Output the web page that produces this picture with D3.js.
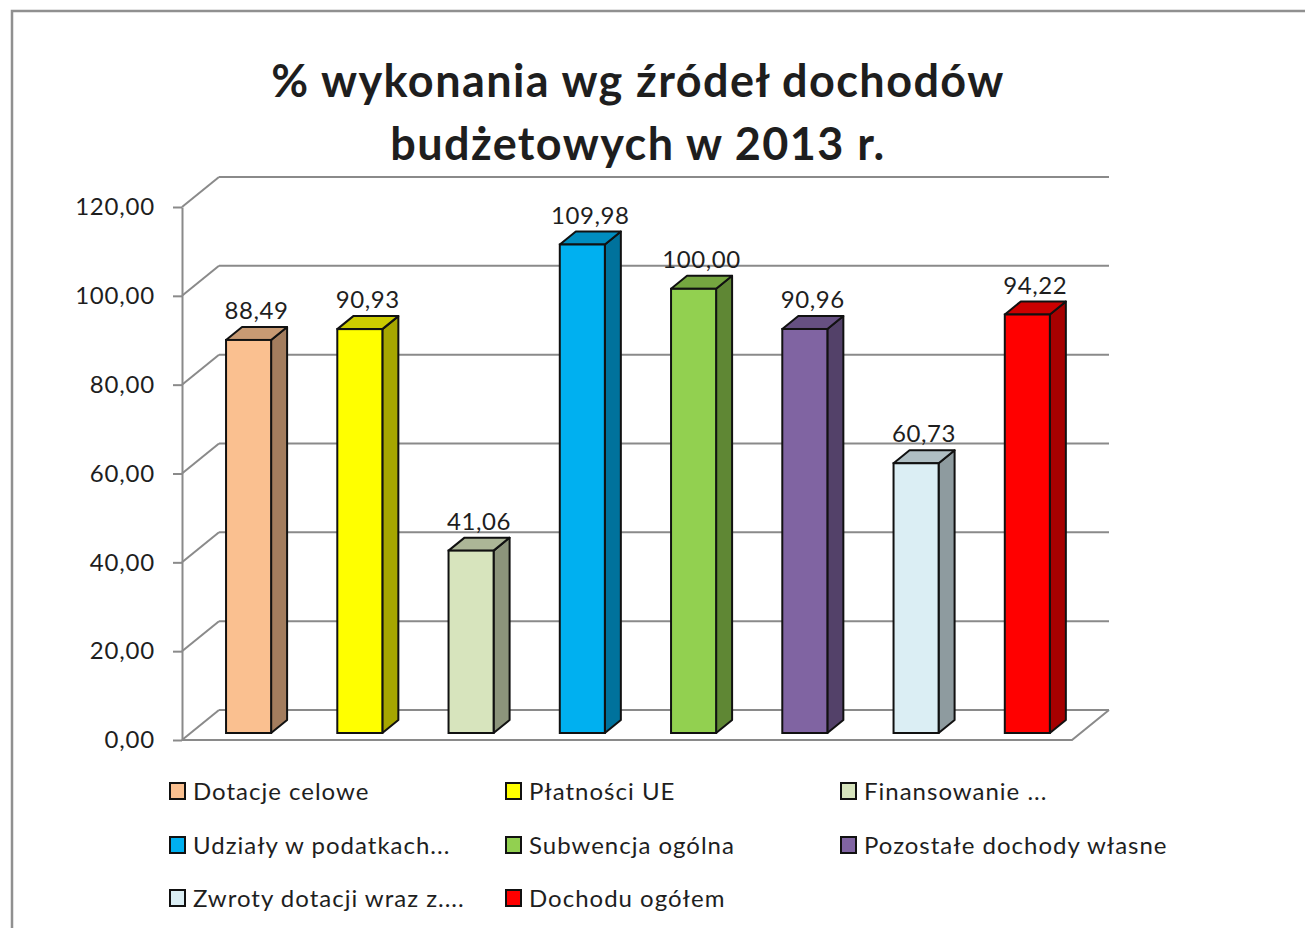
<!DOCTYPE html>
<html lang="pl">
<head>
    <meta charset="UTF-8">
    <title>% wykonania wg źródeł dochodów budżetowych w 2013 r.</title>
    <script src="https://d3js.org/d3.v7.min.js"></script>
    <style>
        body { margin: 0; background: #fff; }
        svg text { font-family: Lato, "Open Sans", sans-serif; fill: #1e1e1e; }
    </style>
</head>
<body>
<svg id="chart" width="1305" height="928"></svg>

<script>
    // data
    const categories = [
        "Dotacje celowe", "Płatności UE", "Finansowanie ...",
        "Udziały w podatkach...", "Subwencja ogólna", "Pozostałe dochody własne",
        "Zwroty dotacji wraz z....", "Dochodu ogółem"
    ];
    const values = [88.49, 90.93, 41.06, 109.98, 100.00, 90.96, 60.73, 94.22];
    const colors = ["#FAC090", "#FFFF00", "#D7E4BD", "#00B0F0", "#92D050", "#8064A2", "#DBEEF4", "#FF0000"];
    const yTicks = [0, 20, 40, 60, 80, 100, 120];
    const titleLines = ["% wykonania wg źródeł dochodów", "budżetowych w 2013 r."];

    const pl = d3.formatLocale({ decimal: ",", thousands: " ", grouping: [3], currency: ["", " zł"] });
    const fmt = pl.format(".2f");

    const svg = d3.select("#chart");
    const grey = "#8a8a8a";

    // outer frame (left and top edges visible)
    svg.append("rect")
        .attr("x", 12).attr("y", 11)
        .attr("width", 1400).attr("height", 1000)
        .attr("fill", "none").attr("stroke", "#909090").attr("stroke-width", 2.5);

    // title
    svg.append("text")
        .attr("x", 638).attr("y", 97)
        .attr("text-anchor", "middle")
        .attr("font-size", 45).attr("font-weight", "bold")
        .attr("letter-spacing", 1.4)
        .selectAll("tspan").data(titleLines).join("tspan")
        .attr("x", 638).attr("dy", (d, i) => i === 0 ? 0 : 63)
        .text(d => d);

    // plot geometry: front plane + depth offset
    const plotLeft = 182, plotRight = 1072, plotTop = 207, plotBottom = 740;
    const depth = { dx: 37, dy: -30 };

    const yScale = d3.scaleLinear().domain([0, 120]).range([plotBottom, plotTop]);
    const xScale = d3.scaleBand().domain(categories).range([plotLeft, plotRight]);
    const bw = xScale.bandwidth();

    const g = svg.append("g");

    // back wall gridlines and side wall diagonals
    yTicks.forEach(t => {
        const y = yScale(t);
        g.append("line")
            .attr("x1", plotLeft + depth.dx).attr("x2", plotRight + depth.dx)
            .attr("y1", y + depth.dy).attr("y2", y + depth.dy)
            .attr("stroke", grey).attr("stroke-width", 2);
        g.append("line")
            .attr("x1", plotLeft).attr("y1", y)
            .attr("x2", plotLeft + depth.dx).attr("y2", y + depth.dy)
            .attr("stroke", grey).attr("stroke-width", 2);
    });

    // floor front edge and right diagonal
    g.append("path")
        .attr("d", `M${plotLeft},${plotBottom}H${plotRight}L${plotRight + depth.dx},${plotBottom + depth.dy}`)
        .attr("fill", "none").attr("stroke", grey).attr("stroke-width", 2);

    // y axis
    const yAxis = svg.append("g")
        .attr("transform", `translate(${plotLeft},0)`)
        .call(d3.axisLeft(yScale).tickValues(yTicks).tickFormat(fmt).tickSize(9).tickSizeOuter(0).tickPadding(18));
    yAxis.selectAll("path, line").attr("stroke", grey).attr("stroke-width", 2);
    yAxis.selectAll("text")
        .attr("font-size", 24)
        .attr("letter-spacing", 0.8)
        .attr("font-family", "Lato, 'Open Sans', sans-serif")
        .attr("fill", "#1e1e1e");

    // 3D bars
    const front = { dx: 8, dy: -7 };     // bar front face offset inside floor
    const bd = { dx: 16, dy: -13 };      // bar depth
    const barW = bw * 0.405;
    const barOff = bw * 0.324;

    const shade = (c, k) => {
        const r = d3.rgb(c);
        return d3.rgb(r.r * k, r.g * k, r.b * k).formatHex();
    };

    const data = categories.map((c, i) => ({ cat: c, value: values[i], color: colors[i] }));

    const bars = svg.append("g").selectAll("g").data(data).join("g");

    bars.each(function (d) {
        const x0 = xScale(d.cat) + barOff + front.dx;
        const x1 = x0 + barW;
        const y0 = yScale(0) + front.dy;
        const y1 = yScale(d.value) + front.dy;
        const sel = d3.select(this);
        // side
        sel.append("path")
            .attr("d", `M${x1},${y0}L${x1 + bd.dx},${y0 + bd.dy}L${x1 + bd.dx},${y1 + bd.dy}L${x1},${y1}Z`)
            .attr("fill", shade(d.color, 0.65)).attr("stroke", "#111").attr("stroke-width", 2)
            .attr("stroke-linejoin", "round");
        // top
        sel.append("path")
            .attr("d", `M${x0},${y1}L${x0 + bd.dx},${y1 + bd.dy}L${x1 + bd.dx},${y1 + bd.dy}L${x1},${y1}Z`)
            .attr("fill", shade(d.color, 0.8)).attr("stroke", "#111").attr("stroke-width", 2)
            .attr("stroke-linejoin", "round");
        // front
        sel.append("rect")
            .attr("x", x0).attr("y", y1)
            .attr("width", barW).attr("height", y0 - y1)
            .attr("fill", d.color).attr("stroke", "#111").attr("stroke-width", 2);
        // value label
        sel.append("text")
            .attr("x", x0 + (barW + bd.dx) / 2)
            .attr("y", y1 - 21)
            .attr("text-anchor", "middle")
            .attr("font-size", 24)
            .attr("letter-spacing", 0.6)
            .text(fmt(d.value));
    });

    // legend: 3 columns
    const legX = [170, 506, 841];
    const legY = [791, 845, 898];
    const legend = svg.append("g").selectAll("g").data(data).join("g")
        .attr("transform", (d, i) => `translate(${legX[i % 3]},${legY[Math.floor(i / 3)]})`);
    legend.append("rect")
        .attr("x", 0).attr("y", -8)
        .attr("width", 15).attr("height", 16)
        .attr("fill", d => d.color).attr("stroke", "#111").attr("stroke-width", 2);
    legend.append("text")
        .attr("x", 23).attr("y", 0)
        .attr("dy", "0.36em")
        .attr("font-size", 24)
        .attr("letter-spacing", 1)
        .text(d => d.cat);
</script>
</body>
</html>
